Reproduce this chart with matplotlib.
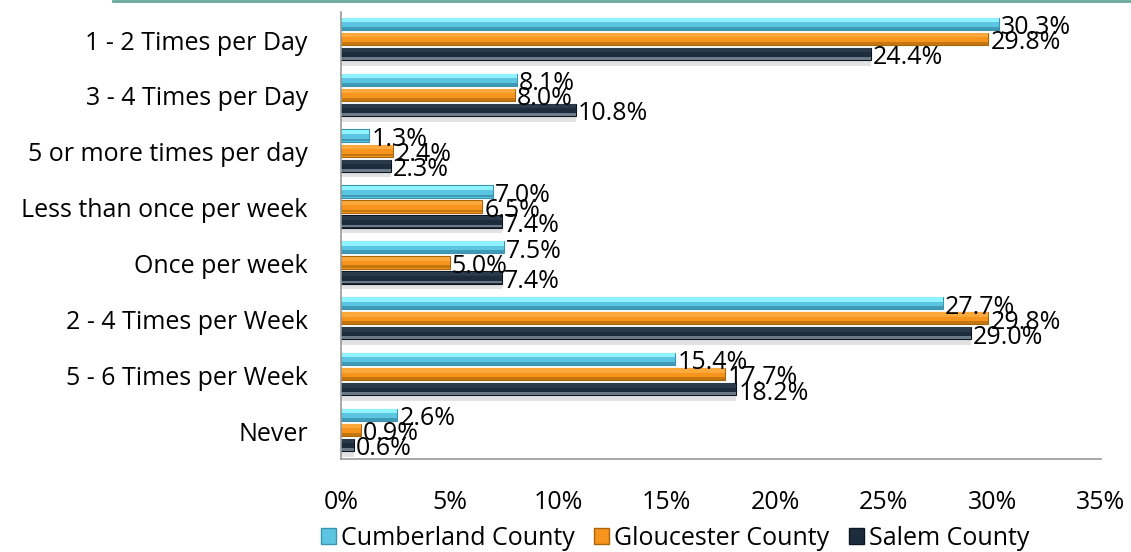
import matplotlib.pyplot as plt
from matplotlib.lines import Line2D
from matplotlib.patches import Patch
import numpy as np

plt.rcParams['font.family'] = ['Open Sans', 'DejaVu Sans']

categories = ["1 - 2 Times per Day", "3 - 4 Times per Day", "5 or more times per day",
              "Less than once per week", "Once per week", "2 - 4 Times per Week",
              "5 - 6 Times per Week", "Never"]
cumberland = [30.3, 8.1, 1.3, 7.0, 7.5, 27.7, 15.4, 2.6]
gloucester = [29.8, 8.0, 2.4, 6.5, 5.0, 29.8, 17.7, 0.9]
salem = [24.4, 10.8, 2.3, 7.4, 7.4, 29.0, 18.2, 0.6]
series = ["Cumberland County", "Gloucester County", "Salem County"]

colors = ["#5cc6e2", "#f7941d", "#1d2c3c"]
tops = ["#8ef2ff", "#fba93c", "#2a3a4a"]
bottoms = ["#3d9bb8", "#c4760f", "#6b7a87"]
edges = ["#3a94b0", "#a8650c", "#0d1620"]

fig = plt.figure(figsize=(11.31, 5.52), dpi=100)
ax = fig.add_axes([0.3015, 0.1685, 0.672, 0.8095])

y = np.arange(len(categories)) - 0.02
offsets = [-0.27, 0.0, 0.27]
h = 0.22

# soft shadow under each group
ax.barh(y + 0.27 + h / 2 + 0.05, salem, height=0.1, color="#d0d0d0", alpha=0.6, zorder=1)

for vals, off, c, t, b, e in zip([cumberland, gloucester, salem], offsets, colors, tops, bottoms, edges):
    ax.barh(y + off, vals, height=h, color=c, edgecolor=e, linewidth=0.8, zorder=2)
    # bevel highlight and shade
    ax.barh(y + off - h * 0.3, vals, height=h * 0.35, color=t, zorder=2.5)
    ax.barh(y + off + h * 0.36, vals, height=h * 0.22, color=b, zorder=2.5)
    for yi, v in zip(y + off, vals):
        ax.text(v + 0.1, yi + 0.07, f"{v:.1f}%", va="center", ha="left",
                fontsize=18, color="black", zorder=3)

ax.set_ylim(len(categories) - 0.5, -0.5)
ax.set_xlim(0, 35)
ax.set_yticks(np.arange(len(categories)))
ax.set_yticklabels(categories, fontsize=18)
ax.set_xticks(np.arange(0, 36, 5))
ax.set_xticklabels([f"{t}%" for t in range(0, 36, 5)], fontsize=18)
ax.tick_params(axis="both", length=0)
ax.tick_params(axis="x", pad=22)
ax.tick_params(axis="y", pad=24)

for s in ["top", "right"]:
    ax.spines[s].set_visible(False)
for s in ["left", "bottom"]:
    ax.spines[s].set_color("#999999")
    ax.spines[s].set_linewidth(1.2)

handles = [Patch(facecolor=c, edgecolor=e) for c, e in zip(colors, edges)]
fig.legend(handles, series, loc="center", bbox_to_anchor=(0.597, 0.025), ncol=3,
           frameon=False, fontsize=18, handlelength=0.6, handleheight=0.6,
           handletextpad=0.2, columnspacing=0.8)

# thin teal rule across the top
fig.add_artist(Line2D([0.1, 1.0], [0.998, 0.998], color="#6aa89a", linewidth=2,
                      transform=fig.transFigure))

fig.savefig("out.png", dpi=100)
